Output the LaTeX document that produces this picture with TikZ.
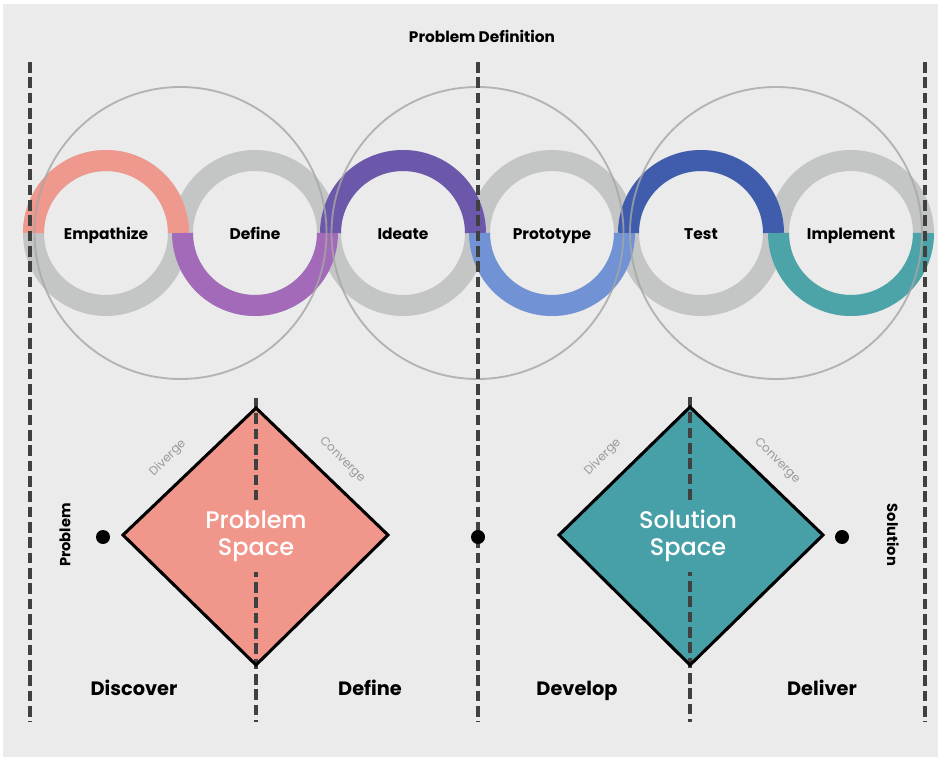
\documentclass[tikz,border=0pt]{standalone}
\usepackage{fontspec}
\setmainfont{Poppins}
\IfFontExistsTF{Poppins Medium}
  {\newfontfamily\spacefont{Poppins Medium}}
  {\newfontfamily\spacefont{Poppins}}
\usepackage{tikz}
\usepackage{xcolor}
\definecolor{paper}{HTML}{EBEBEB}
\definecolor{ringgray}{HTML}{C4C6C6}
\definecolor{coral}{HTML}{F2958A}
\definecolor{lilac}{HTML}{A064B8}
\definecolor{grape}{HTML}{6650A8}
\definecolor{sky}{HTML}{6B8FD6}
\definecolor{navy}{HTML}{3656AC}
\definecolor{seagreen}{HTML}{44A2A6}
\definecolor{probfill}{HTML}{F1968B}
\definecolor{solfill}{HTML}{47A0A8}

\tikzset{
  ring/.style={line width=15.75pt},
  halfring/.style={ring,opacity=.93},
  bigring/.style={draw=black!35,line width=1.4pt},
  divider/.style={draw=black!75,line width=2.5pt,dash pattern=on 8pt off 3.5pt},
  steplabel/.style={font=\fontsize{11.6}{13}\selectfont\bfseries,text height=1.6ex,text depth=.45ex},
  phaselabel/.style={font=\fontsize{14.5}{16}\selectfont\bfseries,text height=1.6ex,text depth=.45ex},
  spacelabel/.style={font=\fontsize{18}{20}\selectfont\spacefont,text=white,align=center,inner xsep=3pt,inner ysep=8pt},
  edgelabel/.style={font=\fontsize{9}{10}\selectfont,text=black!40},
  enddot/.style={circle,fill=black,inner sep=0pt,minimum size=10.5pt},
  diamondline/.style={draw=black,line width=2.3pt,line join=miter},
}

\begin{document}
\begin{tikzpicture}[x=0.75pt,y=0.75pt,line cap=butt]
\fill[white] (0,0) rectangle (938,758);
\fill[paper] (3,1) rectangle (938,754);

\foreach \cx in {106,255,403,552,701,851}
  \draw[ring,ringgray] (\cx,525) circle (72.5);

\draw[halfring,coral] (178.5,525) arc[start angle=0,end angle=180,radius=72.5];
\draw[halfring,lilac] (182.5,525) arc[start angle=180,end angle=360,radius=72.5];
\draw[halfring,grape] (475.5,525) arc[start angle=0,end angle=180,radius=72.5];
\draw[halfring,sky] (479.5,525) arc[start angle=180,end angle=360,radius=72.5];
\draw[halfring,navy] (773.5,525) arc[start angle=0,end angle=180,radius=72.5];
\draw[halfring,seagreen] (778.5,525) arc[start angle=180,end angle=360,radius=72.5];

\draw[bigring,opacity=.8] (180.5,525) circle (146);
\draw[bigring,opacity=.8] (477.5,525) circle (146);
\draw[bigring,opacity=.8] (776,525) circle (146);

\coordinate (leftTop) at (30,696);
\coordinate (leftBot) at (30,36);
\coordinate (midTop) at (478,696);
\coordinate (midBot) at (478,36);
\coordinate (rightTop) at (925,696);
\coordinate (rightBot) at (925,36);
\draw[divider] (leftTop) -- (leftBot);
\draw[divider] (midTop) -- (midBot);
\draw[divider] (rightTop) -- (rightBot);

\node[steplabel] (empathize) at (106,523) {Empathize};
\node[steplabel] (define) at (255,523) {Define};
\node[steplabel] (ideate) at (403,523) {Ideate};
\node[steplabel] (prototype) at (552,523) {Prototype};
\node[steplabel] (test) at (701,523) {Test};
\node[steplabel] (implement) at (851,523) {Implement};

\node[font=\fontsize{11.5}{13}\selectfont\bfseries] (probdef) at (482,722) {Problem Definition};

\coordinate (pTop) at (256,350);
\coordinate (pLeft) at (123,223);
\coordinate (pRight) at (388,223);
\coordinate (pBot) at (256,93);
\fill[probfill] (pTop) -- (pRight) -- (pBot) -- (pLeft) -- cycle;

\coordinate (sTop) at (690,351);
\coordinate (sLeft) at (559,223);
\coordinate (sRight) at (823,223);
\coordinate (sBot) at (690,93);
\fill[solfill] (sTop) -- (sRight) -- (sBot) -- (sLeft) -- cycle;

\coordinate (pDivTop) at (256,360);
\coordinate (pDivBot) at (256,36);
\coordinate (sDivTop) at (690,361);
\coordinate (sDivBot) at (690,36);
\draw[divider] (pDivTop) -- (pDivBot);
\draw[divider] (sDivTop) -- (sDivBot);

\draw[diamondline] (pTop) -- (pRight) -- (pBot) -- (pLeft) -- cycle;
\draw[diamondline] (sTop) -- (sRight) -- (sBot) -- (sLeft) -- cycle;

\node[spacelabel,fill=probfill] (probspace) at (256,222) {Problem\\Space};
\node[spacelabel,fill=solfill] (solspace) at (688,222) {Solution\\Space};

\node[edgelabel,rotate=45] (pdiv) at (168,300) {Diverge};
\node[edgelabel,rotate=-45] (pconv) at (342,298) {Converge};
\node[edgelabel,rotate=45] (sdiv) at (603,301) {Diverge};
\node[edgelabel,rotate=-45] (sconv) at (777,297) {Converge};

\node[enddot] (problemdot) at (103,221) {};
\node[enddot] (middot) at (478,221) {};
\node[enddot] (solutiondot) at (842,221) {};

\node[font=\fontsize{11}{13}\selectfont\bfseries,rotate=90] (problem) at (65,223) {Problem};
\node[font=\fontsize{11}{13}\selectfont\bfseries,rotate=-90] (solution) at (893,223) {Solution};

\node[phaselabel] (discover) at (134,67) {Discover};
\node[phaselabel] (definephase) at (370,67) {Define};
\node[phaselabel] (develop) at (577,67) {Develop};
\node[phaselabel] (deliver) at (822,67) {Deliver};
\end{tikzpicture}
\end{document}
